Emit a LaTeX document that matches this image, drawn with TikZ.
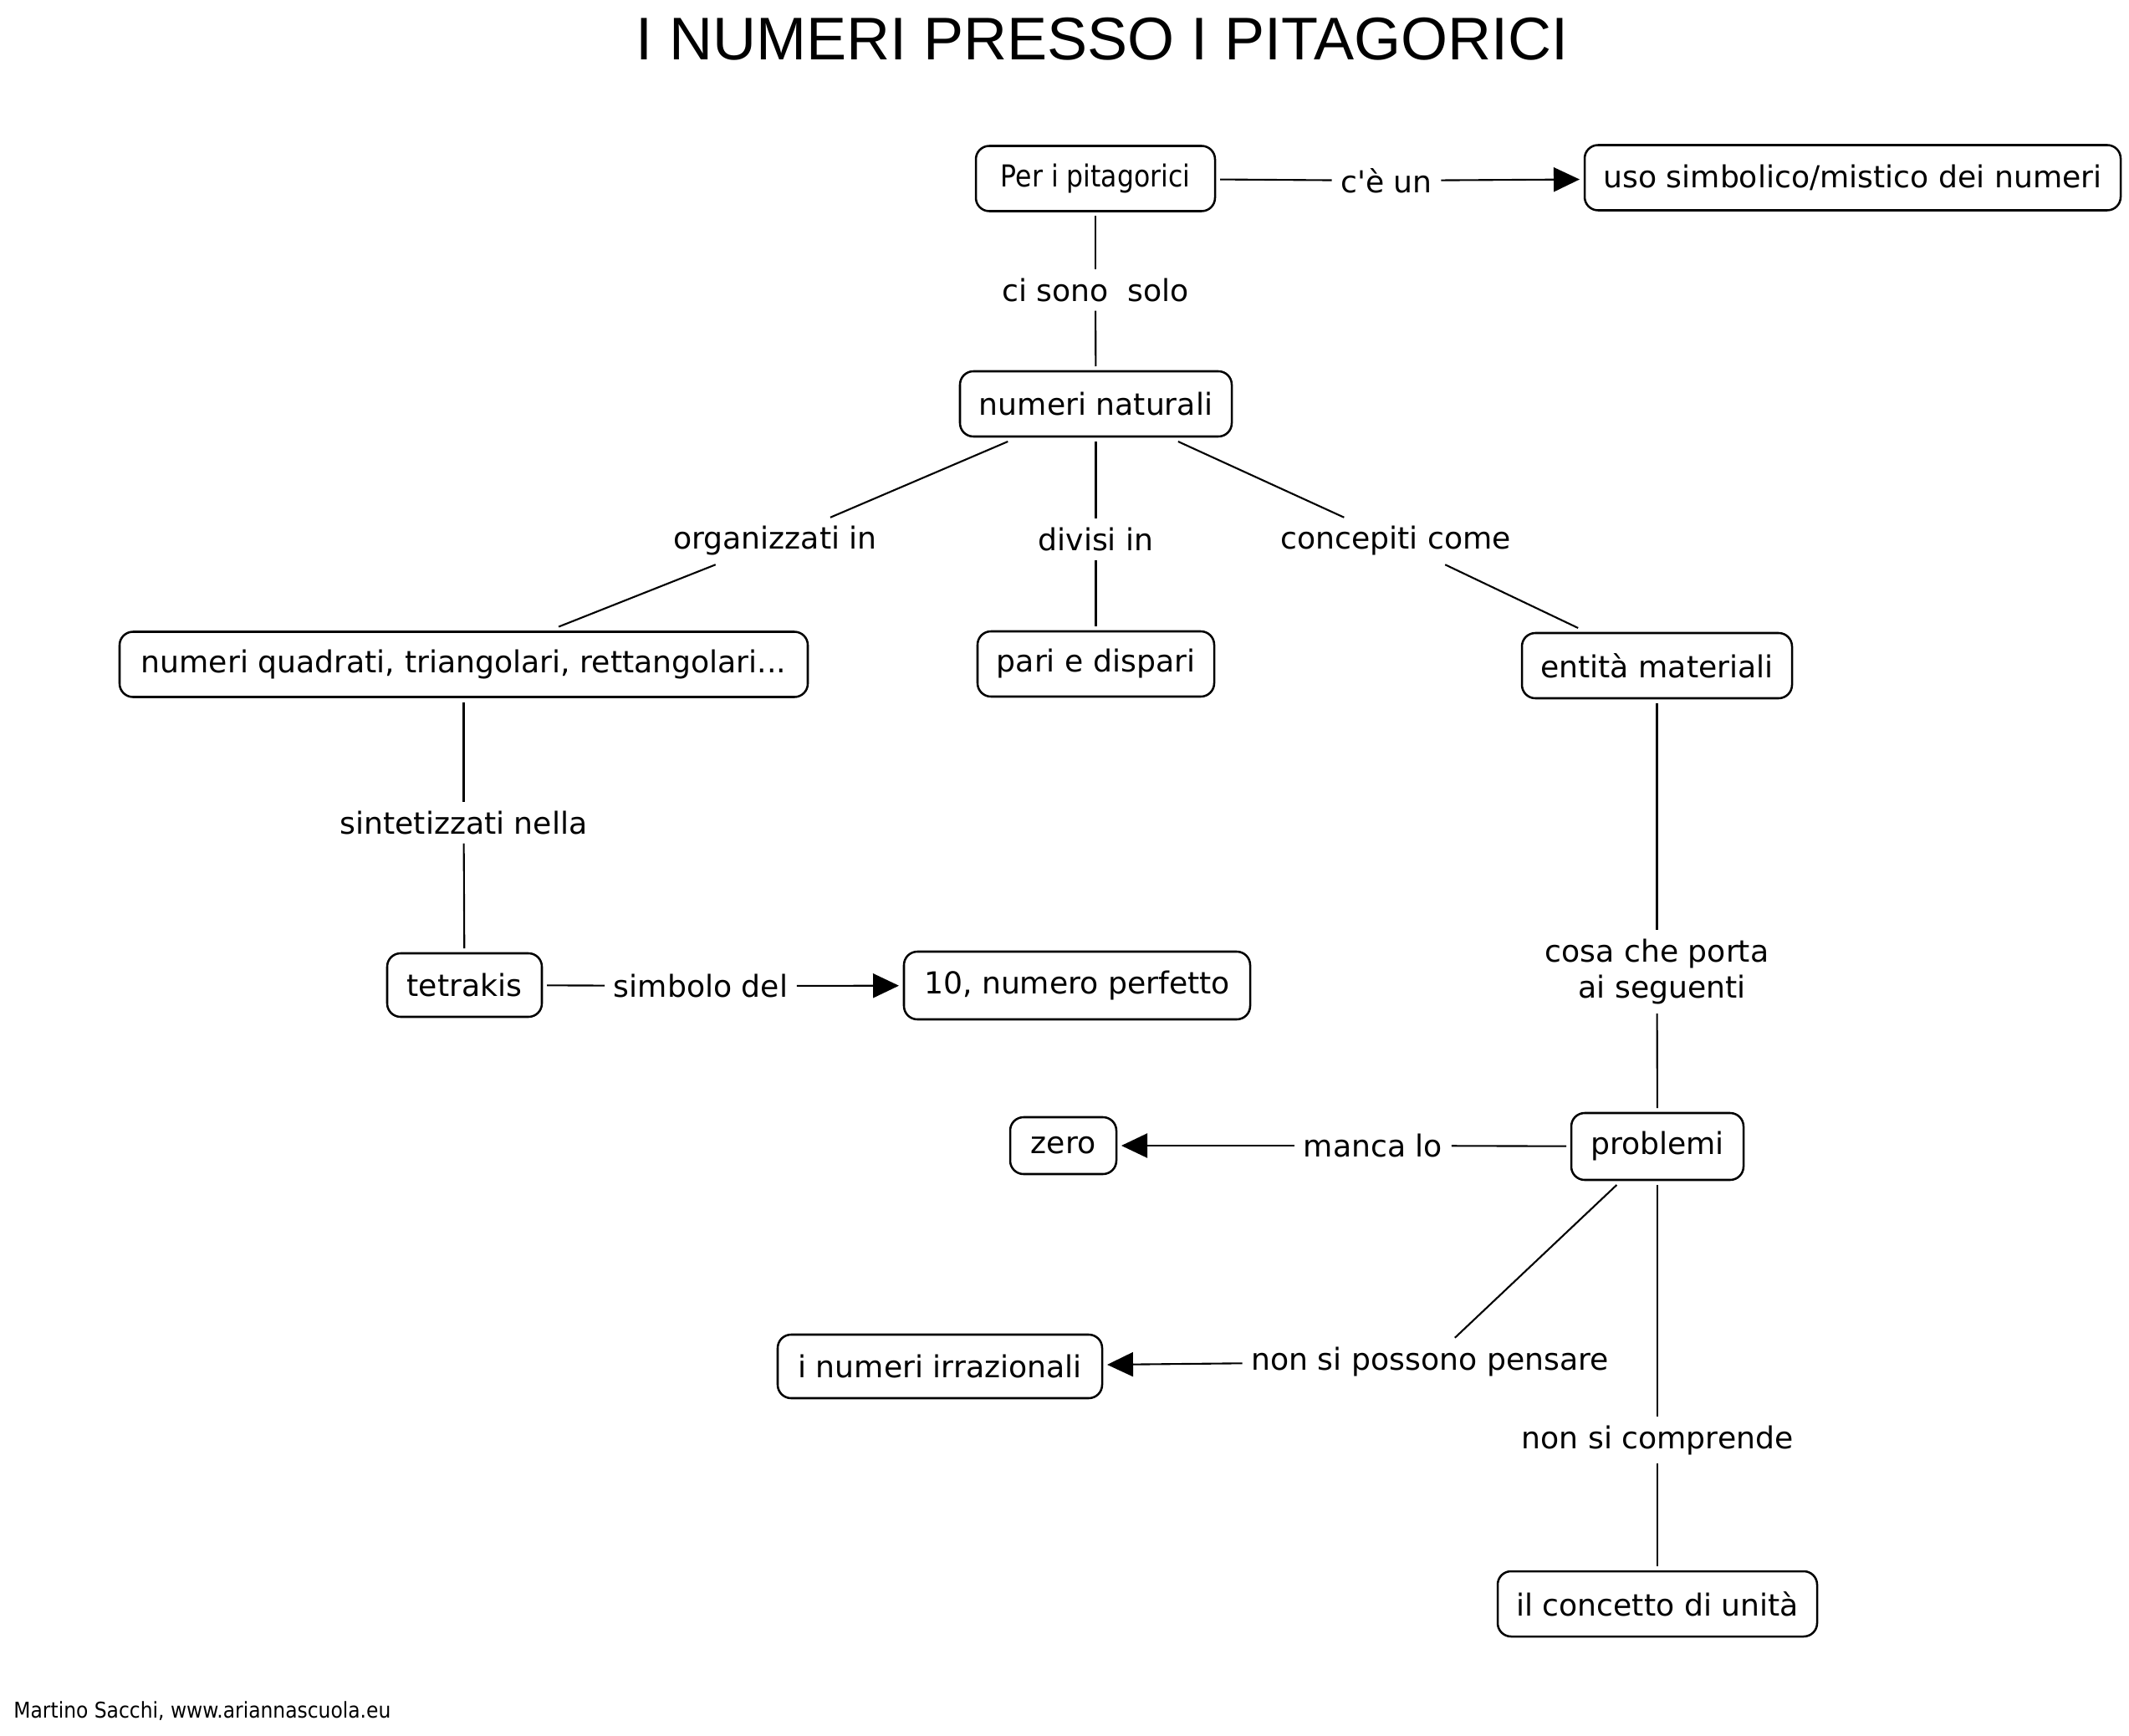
\documentclass[tikz,border=0pt]{standalone}
\usepackage{fontspec}
\usepackage{graphicx}
\setmainfont{DejaVu Sans}[Ligatures=TeXOff]
\newfontfamily\titlefont{Liberation Sans}
\usetikzlibrary{arrows.meta}
\begin{document}
\begin{tikzpicture}[x=1cm,y=-1cm,
  concept/.style={draw, rounded corners=0.16cm, line width=0.72pt, minimum height=0.78cm,
    inner sep=0pt, outer sep=0.06cm, font=\fontsize{10.3}{12.4}\selectfont},
  lab/.style={inner sep=0.1cm, font=\fontsize{10.3}{12.4}\selectfont},
  conn/.style={line width=0.6pt},
  arr/.style={conn, -{Triangle[length=0.31cm,width=0.29cm]}}]
\fill[white] (0,0) rectangle (25.46,20.76);
\useasboundingbox (0,0) rectangle (25.46,20.76);

\node[anchor=base, font=\titlefont\fontsize{20.5}{24}\selectfont] (title) at (13.18,0.715) {I NUMERI PRESSO I PITAGORICI};

\node[concept, minimum width=2.86cm] (pit) at (13.10,2.135) {\scalebox{0.87}[1]{Per i pitagorici}\hspace{0.14cm}};
\node[concept, minimum width=6.41cm] (uso) at (22.155,2.125) {uso simbolico/mistico dei numeri};
\node[concept, minimum width=3.25cm] (nat) at (13.105,4.83) {numeri naturali};
\node[concept, minimum width=8.23cm] (quad) at (5.545,7.945) {numeri quadrati, triangolari, rettangolari...};
\node[concept, minimum width=2.83cm] (pari) at (13.105,7.94) {pari e dispari};
\node[concept, minimum width=3.23cm] (ent) at (19.815,7.96) {entità materiali};
\node[concept, minimum width=1.85cm, minimum height=0.76cm] (tet) at (5.555,11.78) {tetrakis};
\node[concept, minimum width=4.14cm, minimum height=0.81cm] (dieci) at (12.88,11.785) {10, numero perfetto};
\node[concept, minimum width=1.27cm, minimum height=0.68cm] (zero) at (12.715,13.70) {zero};
\node[concept, minimum width=2.06cm, minimum height=0.80cm] (prob) at (19.82,13.71) {problemi};
\node[concept, minimum width=3.88cm, minimum height=0.76cm] (irr) at (11.24,16.34) {i numeri irrazionali};
\node[concept, minimum width=3.82cm] (unit) at (19.82,19.18) {il concetto di unità};

\node[lab] (ceun) at (16.58,2.16) {c'è un};
\node[lab] (cisono) at (13.10,3.47) {ci sono\ \ solo};
\node[lab] (org) at (9.27,6.47) {organizzati in};
\node[lab] (div) at (13.105,6.45) {divisi in};
\node[lab] (conc) at (16.69,6.47) {concepiti come};
\node[lab] (sint) at (5.545,9.84) {sintetizzati nella};
\node[lab] (simb) at (8.38,11.79) {simbolo del};
\node[lab, align=center] (cosa) at (19.815,11.62) {cosa che porta\\\hspace*{0.35em}ai seguenti};
\node[lab] (manca) at (16.42,13.70) {manca lo};
\node[lab] (poss) at (17.10,16.28) {non si possono pensare};
\node[lab] (comp) at (19.82,17.22) {non si comprende};

\draw[conn] (pit) -- (ceun);
\draw[arr] (ceun) -- (uso);
\draw[conn] (pit) -- (cisono);
\draw[conn] (cisono) -- (nat);
\draw[conn] (nat) -- (org);
\draw[conn] (org) -- (quad);
\draw[conn] (nat) -- (div);
\draw[conn] (div) -- (pari);
\draw[conn] (nat) -- (conc);
\draw[conn] (conc) -- (ent);
\draw[conn] (quad) -- (sint);
\draw[conn] (sint) -- (tet);
\draw[conn] (tet) -- (simb);
\draw[arr] (simb) -- (dieci);
\draw[conn] (ent) -- (cosa);
\draw[conn] (cosa) -- (prob);
\draw[conn] (prob) -- (manca);
\draw[arr] (manca) -- (zero);
\draw[conn] (prob) -- (poss);
\draw[arr] (poss) -- (irr);
\draw[conn] (prob) -- (comp);
\draw[conn] (comp) -- (unit);

\node[anchor=base west, font=\fontsize{7.4}{9}\selectfont] (foot) at (0.04,20.54) {\scalebox{0.9}[1]{Martino Sacchi, www.ariannascuola.eu}};
\end{tikzpicture}
\end{document}
